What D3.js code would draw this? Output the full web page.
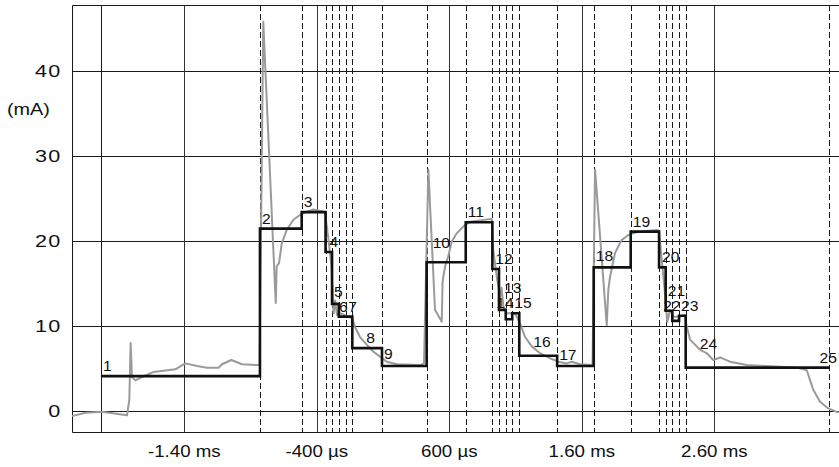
<!DOCTYPE html>
<html><head><meta charset="utf-8">
<script src="https://cdn.jsdelivr.net/npm/d3@7"></script>
<style>html,body{margin:0;padding:0;background:#fff;} svg{display:block;}</style>
</head><body><svg id="chart" width="839" height="467"></svg>
<script>
// ---- data ----
const stepEdges = [-2.029, -0.829, -0.514, -0.334, -0.285, -0.234, -0.178, -0.132, 0.092, 0.429, 0.724, 0.925, 0.975, 1.026, 1.075, 1.128, 1.414, 1.690, 1.969, 2.183, 2.233, 2.283, 2.334, 2.384, 3.466];
const stepLevels = [4.1, 21.45, 23.4, 18.7, 12.6, 11.1, 11.1, 7.4, 5.3, 17.5, 22.2, 16.7, 11.9, 10.8, 11.5, 6.5, 5.3, 16.9, 21.1, 16.9, 11.8, 10.6, 11.2, 5.1];
const stepNames = ["1","2","3","4","5","6","7","8","9","10","11","12","13","14","15","16","17","18","19","20","21","22","23","24","25"];
const traceTime = [-2.248,-2.147,-2.021,-1.832,-1.815,-1.805,-1.795,-1.770,-1.719,-1.631,-1.468,-1.392,-1.304,-1.229,-1.140,-1.115,-1.045,-0.965,-0.851,-0.832,-0.804,-0.710,-0.703,-0.685,-0.665,-0.627,-0.577,-0.514,-0.426,-0.338,-0.313,-0.290,-0.273,-0.262,-0.248,-0.225,-0.132,-0.112,-0.074,-0.023,0.026,0.077,0.128,0.203,0.379,0.409,0.442,0.492,0.543,0.549,0.555,0.568,0.592,0.618,0.656,0.718,0.769,0.920,0.932,0.958,0.983,0.994,1.008,1.033,1.096,1.134,1.172,1.222,1.285,1.360,1.423,1.486,1.524,1.587,1.675,1.681,1.700,1.788,1.800,1.813,1.851,1.901,1.951,2.026,2.165,2.183,2.203,2.228,2.245,2.266,2.291,2.341,2.379,2.392,2.417,2.467,2.492,2.543,2.592,2.643,2.718,2.845,3.096,3.222,3.298,3.323,3.347,3.398,3.460,3.536];
const traceCurrent = [-0.6,-0.2,-0.1,-0.5,1.3,8.0,4.0,3.6,4.0,4.6,4.9,5.6,5.3,5.1,5.1,5.5,6.0,5.5,5.4,5.4,45.8,12.7,17.0,17.4,19.7,21.3,22.5,23.2,23.7,23.4,20.3,17.2,11.5,13.0,11.3,11.5,10.9,9.9,8.7,7.8,7.0,6.4,5.8,5.5,5.4,5.6,28.4,11.9,10.5,15.0,15.8,17.0,18.2,19.9,20.9,21.9,22.3,22.6,18.9,15.8,13.4,14.5,12.3,11.5,11.5,10.3,8.7,7.6,6.8,6.2,5.8,5.6,5.8,5.5,5.4,5.6,28.4,10.1,14.2,15.8,18.6,20.1,20.7,21.1,21.3,21.2,17.8,13.8,10.5,11.9,11.1,11.1,11.3,9.9,8.4,7.6,7.2,6.8,6.0,6.3,5.8,5.4,5.2,5.1,4.8,3.6,2.5,1.1,0.3,-0.2];
const xTicks = [-1.4, -0.4, 0.6, 1.6, 2.6];
const xTickLabels = ["-1.40 ms", "-400 µs", "600 µs", "1.60 ms", "2.60 ms"];
const yTicks = [0, 10, 20, 30, 40];
const yTickLabels = ["0", "10", "20", "30", "40"];
const yUnit = "(mA)";
const xDomain = [-2.2475, 3.541];
const yDomain = [-2.47, 47.76];

// ---- layout ----
const W = 839, H = 467;
const plot = {left: 72, right: 839, top: 5, bottom: 432};
const FONT = "'Liberation Sans', Arial, sans-serif";
const svg = d3.select("#chart");
const x = d3.scaleLinear().domain(xDomain).range([plot.left, plot.right]);
const y = d3.scaleLinear().domain(yDomain).range([plot.bottom, plot.top]);
const crisp = v => Math.round(v) + 0.5;

// horizontal grid
svg.append("g").selectAll("line").data(yTicks).join("line")
  .attr("x1", plot.left).attr("x2", plot.right + 2)
  .attr("y1", d => crisp(y(d))).attr("y2", d => crisp(y(d)))
  .attr("stroke", "#1a1a1a").attr("stroke-width", 1);
// vertical grid at ticks
svg.append("g").selectAll("line").data(xTicks).join("line")
  .attr("x1", d => crisp(x(d))).attr("x2", d => crisp(x(d)))
  .attr("y1", plot.top).attr("y2", plot.bottom)
  .attr("stroke", "#333").attr("stroke-width", 1);
// frame
svg.append("path")
  .attr("d", `M${plot.right + 2},${crisp(plot.top)}H${crisp(plot.left)}V${crisp(plot.bottom)}H${plot.right + 2}`)
  .attr("fill", "none").attr("stroke", "#1a1a1a").attr("stroke-width", 1);

// step markers
svg.append("g").selectAll("line").data(stepEdges).join("line")
  .attr("x1", d => crisp(x(d))).attr("x2", d => crisp(x(d)))
  .attr("y1", plot.top).attr("y2", plot.bottom)
  .attr("stroke", "#1a1a1a").attr("stroke-width", 1)
  .attr("stroke-dasharray", (d, i) => i === 0 ? null : "6,3");

// measured trace
const tracePts = traceTime.map((t, i) => [x(t), y(traceCurrent[i])]);
svg.append("path").attr("d", d3.line()(tracePts))
  .attr("fill", "none").attr("stroke", "#9a9a9a").attr("stroke-width", 2).attr("stroke-linejoin", "round");

// step line
const stepPts = [];
stepLevels.forEach((lv, i) => {
  stepPts.push([x(stepEdges[i]), y(lv)], [x(stepEdges[i + 1]), y(lv)]);
});
svg.append("path").attr("d", d3.line()(stepPts))
  .attr("fill", "none").attr("stroke", "#111").attr("stroke-width", 2.6).attr("stroke-linejoin", "miter");

// text helper (reference text is horizontally stretched)
function stretchedText(g, tx, ty, str, size, anchor, sx) {
  return g.append("text").attr("transform", `translate(${tx},${ty}) scale(${sx},1)`)
    .attr("text-anchor", anchor).attr("font-family", FONT).attr("font-size", size)
    .attr("fill", "#111").text(str);
}
const axG = svg.append("g");
xTicks.forEach((t, i) => stretchedText(axG, x(t), 456.5, xTickLabels[i], 16, "middle", 1.17));
yTicks.forEach((v, i) => stretchedText(axG, 61.7, y(v) + 5.8, yTickLabels[i], 16, "end", 1.35).attr("letter-spacing", 1));
stretchedText(axG, 7, 114.5, yUnit, 16, "start", 1.24);

// ---- step labels ----
function samplePts(pts) {
  const out = [];
  for (let i = 0; i < pts.length - 1; i++) {
    const [x0, y0] = pts[i], [x1, y1] = pts[i + 1];
    const n = Math.max(1, Math.ceil(Math.hypot(x1 - x0, y1 - y0)));
    for (let k = 0; k <= n; k++) out.push([x0 + (x1 - x0) * k / n, y0 + (y1 - y0) * k / n]);
  }
  return out;
}
const grayObs = samplePts(tracePts), stepObs = samplePts(stepPts);
const LFS = 14.5, CAP = LFS * 0.72, SXL = 1.08, ROW = 15;
const labG = svg.append("g");
const labels = stepNames.map((name, i) => {
  const lv = i < stepLevels.length ? stepLevels[i] : stepLevels[stepLevels.length - 1];
  const ax = x(stepEdges[i]), ay = y(lv);
  const t = stretchedText(labG, 0, 0, name, LFS, "start", SXL);
  const w = t.node().getComputedTextLength() * SXL;
  // preferred spot: near the top-left of the step, clear of both lines
  const cands = [];
  for (let dx = 0; dx <= 14; dx++) for (let dy = 5; dy <= 22; dy++)
    cands.push({dx, dy, cost: (dx - 2) * 0.7 + (dy - 6) * 0.9 + (dx < 2 ? 3 : 0)});
  cands.sort((a, b) => a.cost - b.cost);
  let px = Math.min(ax + 2, W - w - 2), py = ay - 6;
  for (const c of cands) {
    const lx = Math.min(ax + c.dx, W - w - 2), by = ay - c.dy;
    const r = [lx, by - CAP, lx + w, by];
    if (stepObs.some(p => p[0] > r[0] - 1.5 && p[0] < r[2] + 1.5 && p[1] > r[1] - 1.5 && p[1] < r[3] + 2)) continue;
    if (grayObs.some(p => p[0] > r[0] && p[0] < r[2] && p[1] > r[1] - 0.5 && p[1] < r[3] + 1)) continue;
    px = lx; py = by; break;
  }
  return {t, w, x: px, y: py, x0: px};
});
// resolve label clashes from right to left
const overl = (a, b) => !(a.x + a.w <= b.x || b.x + b.w <= a.x || a.y <= b.y - ROW + 0.5 || b.y <= a.y - ROW + 0.5);
const done = [];
for (let i = labels.length - 1; i >= 0; i--) {
  const L = labels[i];
  let guard = 0;
  while (guard++ < 20) {
    const hit = done.find(d => overl(L, d));
    if (!hit) break;
    const leftX = hit.x - L.w - 0.5;
    if (Math.abs(L.y - hit.y) < 8 && L.x0 - leftX <= 12) {
      L.x = leftX; L.y = hit.y;
    } else {
      L.x = L.x0; L.y = Math.min(L.y, hit.y - ROW);
    }
  }
  done.push(L);
}
labels.forEach(L => L.t.attr("transform", `translate(${L.x},${L.y}) scale(${SXL},1)`));
</script></body></html>
